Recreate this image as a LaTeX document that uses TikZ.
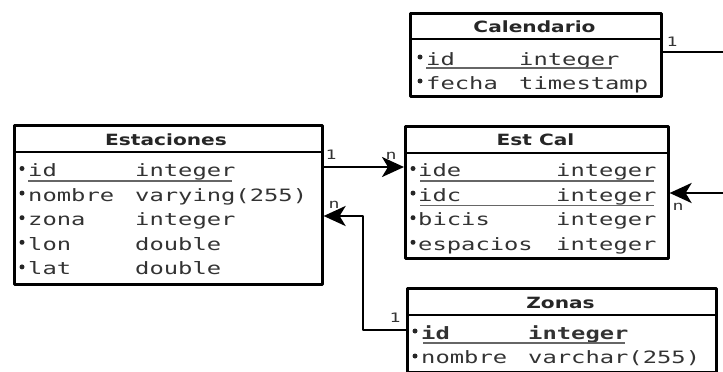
\documentclass[tikz,border=0pt]{standalone}
\usepackage{fontspec}
\newfontfamily\rowfont{DejaVu Sans Mono}[FakeStretch=1.4]
\newfontfamily\headfont{DejaVu Sans}[FakeStretch=1.3]
\usetikzlibrary{arrows.meta}
\tikzset{
  tabla/.style={draw, line width=2.6pt, anchor=north west, inner sep=0pt},
  cabeza/.style={font=\headfont\bfseries\fontsize{15.5}{15.5}\selectfont, inner sep=0pt, text=black!85},
  campo/.style={font=\rowfont\fontsize{17}{17}\selectfont, inner sep=0pt, anchor=base west, text=black!80},
  punto/.style={circle, fill=black!85, inner sep=0pt, minimum size=5pt},
  clave/.style={draw=black!60, line width=1.3pt},
  rel/.style={line width=2.8pt, -{Stealth[length=22pt,width=20pt,inset=6pt]}},
  card/.style={font=\rowfont\fontsize{13}{13}\selectfont, inner sep=0pt, text=black!80}
}
\begin{document}
\begin{tikzpicture}[x=1pt, y=-1pt, line join=round]
  \useasboundingbox (0,0) rectangle (723,372);
  \def\paso{24.6} % separacion de filas
  % Calendario
  \node[tabla, minimum width=251pt, minimum height=83pt] (cal) at (409,12) {};
  \draw[line width=2.6pt] (409,39) -- (660,39);
  \node[cabeza] (cal-h) at (534.5,27) {Calendario};
  \foreach \n/\t/\yb in {id/integer/65, fecha/timestamp/89}{
    \node[punto] at (420,\yb-8) {};
    \node[campo] (cal-\n) at (426,\yb) {\n};
    \node[campo] at (519,\yb) {\t};
  }
  \draw[clave] (426,68) -- (612,68);
  % Estaciones
  \node[tabla, minimum width=308pt, minimum height=159pt] (est) at (13,124) {};
  \draw[line width=2.6pt] (13,152) -- (321,152);
  \node[cabeza] (est-h) at (166,140) {Estaciones};
  \foreach \n/\t [count=\i from 0] in {id/integer, nombre/varying(255), zona/integer, lon/double, lat/double}{
    \node[punto] at (22,176.5+\i*\paso-8) {};
    \node[campo] (est-\n) at (28,176.5+\i*\paso) {\n};
    \node[campo] at (135,176.5+\i*\paso) {\t};
  }
  \draw[clave] (28,181) -- (232,181);
  % Est Cal
  \node[tabla, minimum width=263pt, minimum height=132pt] (estcal) at (404,125) {};
  \draw[line width=2.6pt] (404,153) -- (667,153);
  \node[cabeza] (estcal-h) at (535.5,140) {Est Cal};
  \foreach \n/\t [count=\i from 0] in {ide/integer, idc/integer, bicis/integer, espacios/integer}{
    \node[punto] at (413,176.5+\i*\paso-8) {};
    \node[campo] (estcal-\n) at (418,176.5+\i*\paso) {\n};
    \node[campo] at (556,176.5+\i*\paso) {\t};
  }
  \draw[clave] (420,181) -- (654,181);
  \draw[clave] (420,205.6) -- (654,205.6);
  % Zonas
  \node[tabla, minimum width=309pt, minimum height=84pt] (zon) at (406,287) {};
  \draw[line width=2.6pt] (406,315) -- (715,315);
  \node[cabeza] (zon-h) at (560.5,303) {Zonas};
  \node[punto] at (415,331) {};
  \node[campo, font=\rowfont\bfseries\fontsize{17}{17}\selectfont] (zon-id) at (421,339) {id};
  \node[campo, font=\rowfont\bfseries\fontsize{17}{17}\selectfont] at (528,339) {integer};
  \node[punto] at (415,356) {};
  \node[campo] (zon-nombre) at (421,363.5) {nombre};
  \node[campo] at (528,363.5) {varchar(255)};
  \draw[clave] (423,343) -- (625,343);
  % relaciones
  \coordinate (finCal) at (723,52);
  \coordinate (finEst) at (723,193);
  \coordinate (codo) at (363,330);
  \draw[line width=2.8pt] (cal.east |- finCal) -- (finCal);
  \node[card] at (672,42) {1};
  \draw[rel] (est.east |- 0,167) -- (estcal.west |- 0,167);
  \node[card] at (331,155) {1};
  \node[card] at (391,156) {n};
  \draw[rel] (finEst) -- (estcal.east |- finEst);
  \node[card] at (678,207) {n};
  \draw[rel] (zon.west |- codo) -- (codo) -- (codo |- 0,216) -- (est.east |- 0,216);
  \node[card] at (395,318) {1};
  \node[card] at (334,205) {n};
\end{tikzpicture}
\end{document}
